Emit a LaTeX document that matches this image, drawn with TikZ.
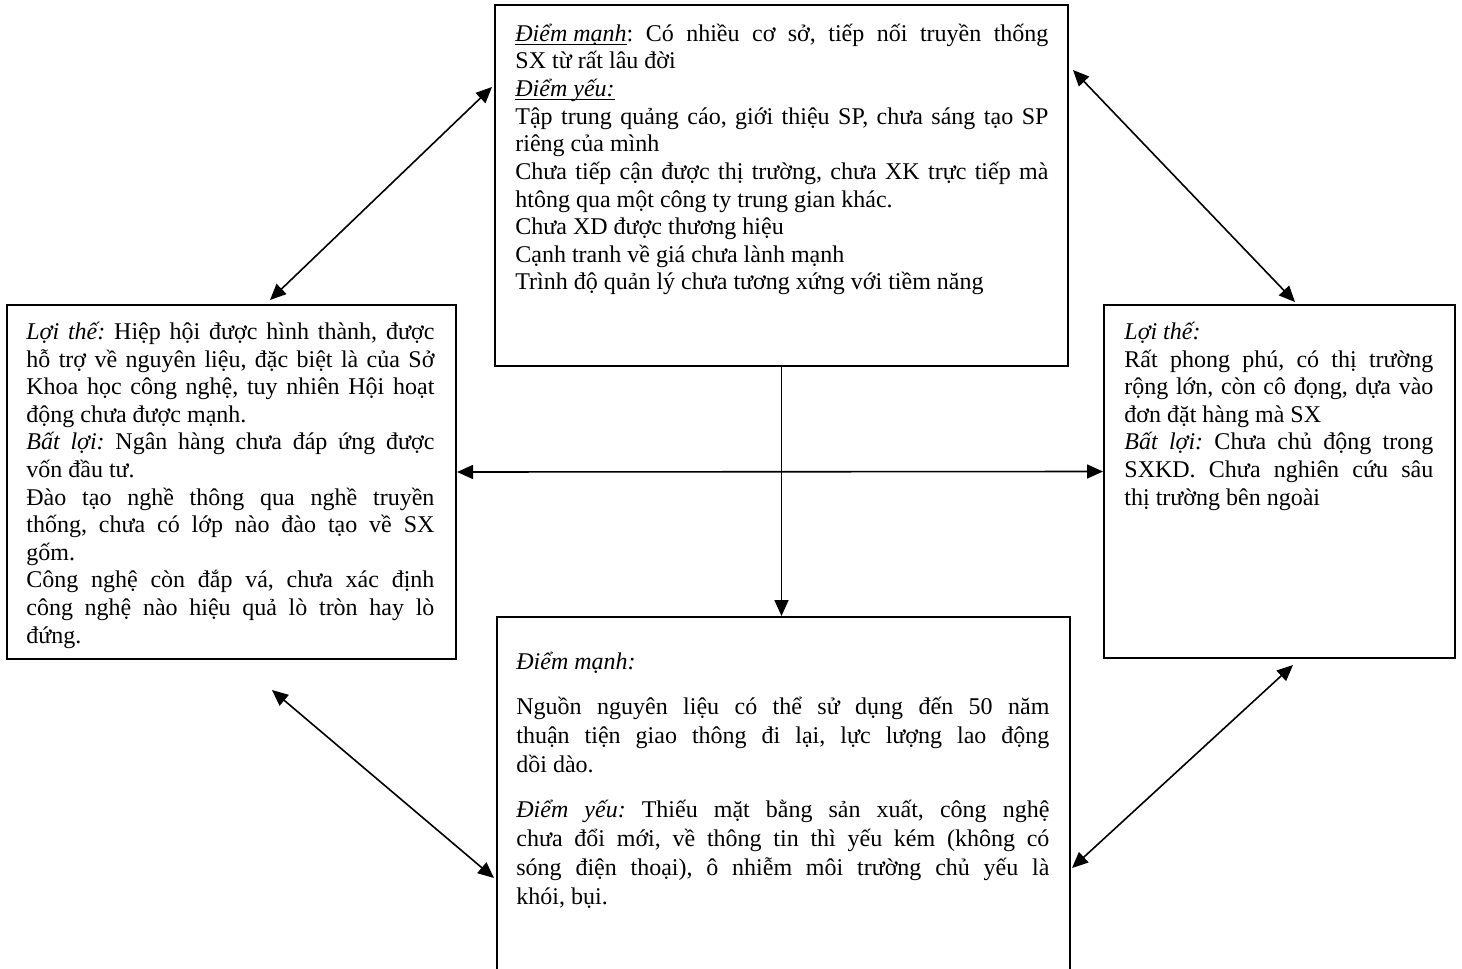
\documentclass[tikz,border=0pt]{standalone}
\usepackage{fontspec}
\setmainfont{Liberation Serif}
\usetikzlibrary{arrows.meta,positioning}
\setlength{\parindent}{0pt}
\frenchspacing
% underline at a fixed depth
\newcommand{\undl}[1]{\leavevmode\setbox0\hbox{#1}\rlap{\rule[-1.6pt]{\wd0}{0.5pt}}\box0}

\begin{document}
\begin{tikzpicture}[x=0.5pt,y=-0.5pt,
  box/.style={draw,line width=1pt,inner sep=0pt},
  txt/.style={anchor=north west,inner sep=0pt,align=justify,font=\fontsize{12}{13.8}\selectfont,
    execute at begin node={\tolerance=10000\hyphenpenalty=10000\rule{0pt}{12pt}}},
  link/.style={line width=0.8pt,>={Triangle[length=8pt,width=7pt]}}]
\useasboundingbox (0,0) rectangle (1462,969);
% the four boxes
\node[box,minimum width=286.5pt,minimum height=180.5pt] (tbox) at (781.5,185.5) {};
\node[box,minimum width=224.5pt,minimum height=177pt] (lbox) at (231.5,482) {};
\node[box,minimum width=175.5pt,minimum height=176.5pt] (rbox) at (1279.5,481.5) {};
\node[box,minimum width=286.5pt,minimum height=191.5pt] (bbox) at (783.5,808.5) {};
% texts
\node[txt,text width=266.5pt] (ttext) at ([shift={(10.5pt,-6.5pt)}]tbox.north west) {%
\undl{\textit{Điểm mạnh}}: Có nhiều cơ sở, tiếp nối truyền thống\linebreak SX từ rất lâu đời\par
\undl{\textit{Điểm yếu:}}\par
Tập trung quảng cáo, giới thiệu SP, chưa sáng tạo SP\linebreak riêng của mình\par
Chưa tiếp cận được thị trường, chưa XK trực tiếp mà\linebreak htông qua một công ty trung gian khác.\par
Chưa XD được thương hiệu\par
Cạnh tranh về giá chưa lành mạnh\par
Trình độ quản lý chưa tương xứng với tiềm năng};
\node[txt,text width=204pt] (ltext) at ([shift={(10pt,-5.5pt)}]lbox.north west) {%
\textit{Lợi thế:} Hiệp hội được hình thành, được\linebreak hỗ trợ về nguyên liệu, đặc biệt là của Sở\linebreak Khoa học công nghệ, tuy nhiên Hội hoạt\linebreak động chưa được mạnh.\par
\textit{Bất lợi:} Ngân hàng chưa đáp ứng được\linebreak vốn đầu tư.\par
Đào tạo nghề thông qua nghề truyền\linebreak thống, chưa có lớp nào đào tạo về SX\linebreak gốm.\par
Công nghệ còn đắp vá, chưa xác định\linebreak công nghệ nào hiệu quả lò tròn hay lò\linebreak đứng.};
\node[txt,text width=154.5pt] (rtext) at ([shift={(10.5pt,-5.5pt)}]rbox.north west) {%
\textit{Lợi thế:}\par
Rất phong phú, có thị trường\linebreak rộng lớn, còn cô đọng, dựa vào\linebreak đơn đặt hàng mà SX\par
\textit{Bất lợi:} Chưa chủ động trong\linebreak SXKD. Chưa nghiên cứu sâu\linebreak thị trường bên ngoài};
\node[txt,text width=266.5pt,font=\fontsize{12}{14.5}\selectfont] (btext) at ([shift={(10pt,-14.5pt)}]bbox.north west) {%
\setlength{\parskip}{8pt}\textit{Điểm mạnh:}\par
Nguồn nguyên liệu có thể sử dụng đến 50 năm\linebreak thuận tiện giao thông đi lại, lực lượng lao động\linebreak dồi dào.\par
\textit{Điểm yếu:} Thiếu mặt bằng sản xuất, công nghệ\linebreak chưa đổi mới, về thông tin thì yếu kém (không có\linebreak sóng điện thoại), ô nhiễm môi trường chủ yếu là\linebreak khói, bụi.};
% arrow ends
\coordinate (tl1) at (492,87);
\coordinate (tl2) at (270,300);
\coordinate (tr1) at (1073,70);
\coordinate (tr2) at (1295,302);
\coordinate (bl1) at (272,690);
\coordinate (bl2) at (494,878);
\coordinate (br1) at (1293,665);
\coordinate (br2) at (1072,868);
% connectors
\draw[link,<->] (tl1) -- (tl2);
\draw[link,<->] (tr1) -- (tr2);
\draw[link,<->] (bl1) -- (bl2);
\draw[link,<->] (br1) -- (br2);
\draw[link,<->] ([yshift=5pt]lbox.east) -- ([yshift=5pt]rbox.west);
\draw[link,->] (tbox.south) -- (tbox.south |- bbox.north);
\end{tikzpicture}
\end{document}
